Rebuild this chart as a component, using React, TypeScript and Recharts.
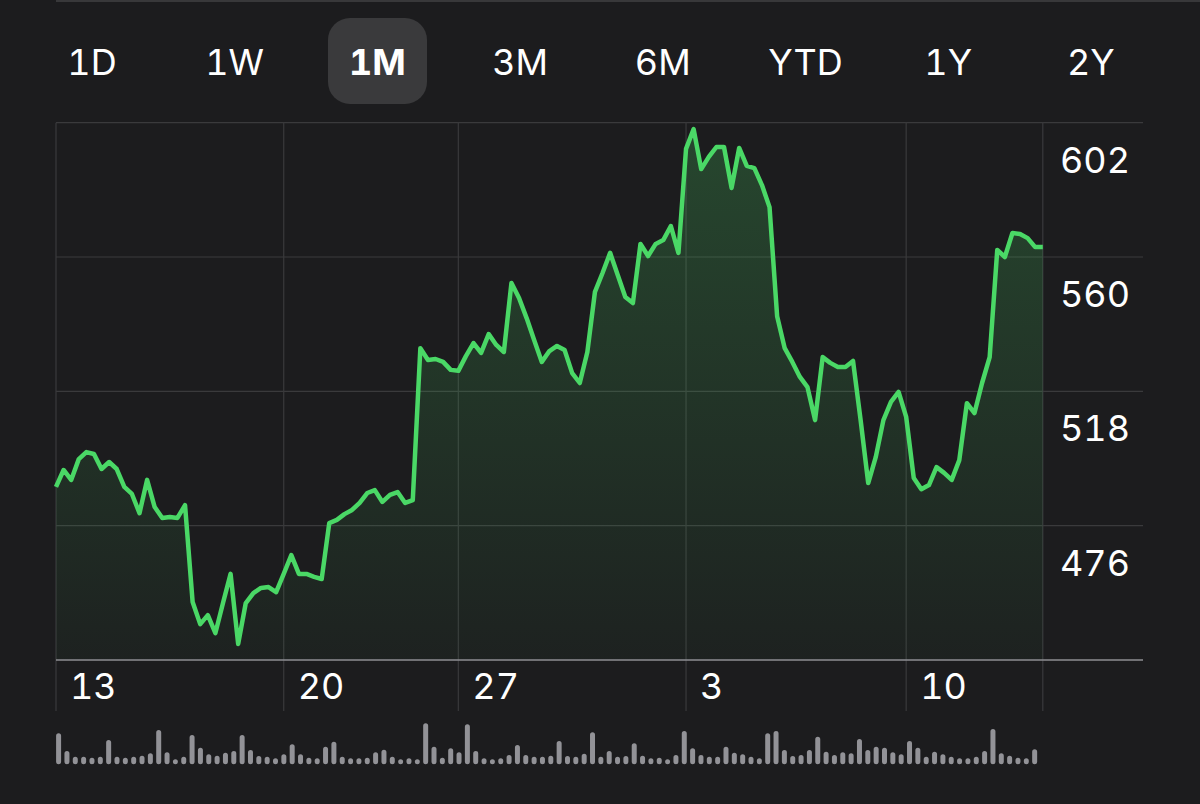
import React from "react";
import {
  AreaChart,
  Area,
  BarChart,
  Bar,
  XAxis,
  YAxis,
  CartesianGrid,
  ReferenceLine,
} from "recharts";

// price, one point per sample of the 1M view
const prices = [
  488.1, 493.4, 490.3, 496.8, 499.0, 498.4, 493.7, 495.9, 493.7, 488.1,
  485.9, 479.9, 490.3, 481.8, 478.4, 478.7, 478.4, 482.4, 452.1, 445.2,
  448.0, 442.4, 451.8, 460.9, 439.0, 451.8, 454.9, 456.5, 456.8, 455.2,
  460.9, 466.8, 460.9, 460.9, 460.0, 459.3, 476.8, 477.8, 479.6, 480.9,
  483.1, 486.2, 487.1, 483.4, 485.6, 486.5, 483.1, 484.0, 531.5, 527.8,
  528.1, 527.2, 524.7, 524.4, 529.0, 533.1, 530.0, 535.9, 532.5, 530.3,
  551.9, 547.2, 540.9, 534.0, 527.2, 530.6, 532.2, 530.9, 523.7, 520.6,
  530.3, 549.1, 555.0, 561.3, 554.4, 547.5, 545.6, 564.1, 560.3, 564.1,
  565.3, 569.7, 561.3, 593.8, 600.0, 587.5, 591.3, 594.4, 594.4, 581.6,
  594.1, 588.5, 587.8, 582.5, 575.6, 541.5, 531.5, 527.2, 522.5, 519.3,
  509.0, 528.7, 526.9, 525.6, 525.6, 527.5, 509.0, 489.3, 497.5, 509.0,
  514.7, 517.8, 510.0, 490.9, 487.4, 488.7, 494.3, 492.5, 490.3, 496.5,
  514.3, 511.2, 520.6, 528.7, 562.2, 560.0, 567.5, 567.2, 565.9, 563.1,
  563.1,
];

const volumes = [
  31, 13.3, 7.6, 7.6, 6.6, 7.6, 24.3, 7.6, 6.6, 7.6,
  8.6, 11, 34.3, 12, 5, 7.6, 29.3, 16.6, 10, 8.6,
  11.6, 13.3, 29.3, 14.3, 8.3, 7.6, 6, 10, 20, 10,
  6.6, 6, 17.6, 22.6, 7.6, 6, 6, 6.6, 12, 14.6,
  7.6, 5, 6, 5, 41, 17.6, 6.6, 16, 12, 40,
  13.3, 6, 5, 6, 9.3, 19.3, 9.3, 7.6, 7.6, 8.6,
  23.3, 8.3, 7.6, 10.6, 32, 7.6, 13.3, 7.6, 8.3, 21,
  8.6, 6, 6.6, 5, 9.3, 33.3, 16, 9.3, 7.6, 7.6,
  17.6, 11.6, 10, 7.6, 6, 31, 33.3, 14.3, 8.3, 9.3,
  14.3, 27.6, 12.6, 9.3, 12, 11, 25.3, 14.3, 17.6, 16.6,
  12, 10, 23.3, 16.6, 7.6, 12.6, 10, 7.6, 6, 6,
  7.6, 13.3, 35.3, 11, 8.6, 6.6, 6, 15,
];

const ranges = ["1D", "1W", "1M", "3M", "6M", "YTD", "1Y", "2Y"];
const activeRange = "1M";

const priceTicks = [476, 518, 560, 602];
const dayTicks = [0, 30, 53, 83, 112, 130];
const dayLabels = ["13", "20", "27", "3", "10", ""];

const priceData = prices.map((price, i) => ({ i, price }));
const volumeData = volumes.map((volume, i) => ({ i, volume }));

const FONT = "Inter, 'Noto Sans', sans-serif";
const GREEN = "#4ad866";

function PriceTick(props: any) {
  const { y, payload } = props;
  return (
    <text
      x={1060}
      y={y + 50}
      fill="#ffffff"
      fontSize={36}
      fontFamily={FONT}
      style={{ fontVariantNumeric: "tabular-nums" }}
    >
      {payload.value}
    </text>
  );
}

function DayTick(props: any) {
  const { x, payload } = props;
  const label = dayLabels[dayTicks.indexOf(payload.value)];
  return (
    <text
      x={x + 14}
      y={699}
      fill="#ffffff"
      fontSize={36}
      fontFamily={FONT}
      style={{ fontVariantNumeric: "tabular-nums" }}
    >
      {label}
    </text>
  );
}

export default function App() {
  return (
    <div
      style={{
        position: "absolute",
        left: 0,
        top: 0,
        width: 1200,
        height: 804,
        background: "#1c1c1e",
        overflow: "hidden",
        fontFamily: FONT,
      }}
    >
      <div
        style={{
          position: "absolute",
          left: 56,
          top: 0,
          width: 1144,
          height: 2,
          background: "#38383a",
        }}
      />

      {/* range selector */}
      <div
        style={{
          position: "absolute",
          left: 328,
          top: 18,
          width: 99,
          height: 86,
          borderRadius: 22,
          background: "#3a3a3c",
        }}
      />
      {ranges.map((r, idx) => (
        <div
          key={r}
          style={{
            position: "absolute",
            left: 92 + idx * 142.7 - 60,
            top: 40,
            width: 120,
            textAlign: "center",
            color: "#ffffff",
            fontSize: 36,
            lineHeight: "44px",
            fontWeight: r === activeRange ? 700 : 400,
            fontVariantNumeric: "tabular-nums",
          }}
        >
          {r}
        </div>
      ))}

      {/* price area */}
      <div style={{ position: "absolute", left: 0, top: 0 }}>
        <AreaChart
          width={1200}
          height={740}
          data={priceData}
          margin={{ top: 122.7, right: 57, left: 56, bottom: 8.9 }}
        >
          <defs>
            <linearGradient id="priceFill" x1="0" y1="0" x2="0" y2="1">
              <stop offset="0%" stopColor={GREEN} stopOpacity={0.38} />
              <stop offset="100%" stopColor={GREEN} stopOpacity={0.05} />
            </linearGradient>
          </defs>
          <CartesianGrid
            stroke="#3a3a3c"
            strokeWidth={1.2}
            horizontalValues={priceTicks}
            verticalValues={dayTicks}
          />
          <XAxis
            dataKey="i"
            type="number"
            domain={[0, 143.2]}
            ticks={dayTicks}
            tick={<DayTick />}
            axisLine={false}
            tickLine={false}
            height={20}
            interval={0}
          />
          <YAxis
            type="number"
            domain={[418, 602]}
            ticks={priceTicks}
            tick={<PriceTick />}
            orientation="right"
            mirror
            axisLine={false}
            tickLine={false}
            allowDataOverflow
          />
          <ReferenceLine y={434} stroke="#8e8e93" strokeWidth={1.5} />
          <Area
            type="linear"
            dataKey="price"
            baseValue={434}
            stroke={GREEN}
            strokeWidth={4.5}
            strokeLinejoin="round"
            fill="url(#priceFill)"
            isAnimationActive={false}
            dot={false}
            activeDot={false}
          />
        </AreaChart>
      </div>

      {/* volume bars */}
      <div style={{ position: "absolute", left: 0, top: 700 }}>
        <BarChart
          width={1200}
          height={80}
          data={volumeData}
          margin={{ top: 19.3, right: 161.5, left: 54.1, bottom: 15.7 }}
        >
          <XAxis dataKey="i" hide />
          <YAxis domain={[0, 45]} hide />
          <Bar
            dataKey="volume"
            fill="#929297"
            barSize={5}
            radius={[2.5, 2.5, 2.5, 2.5]}
            isAnimationActive={false}
          />
        </BarChart>
      </div>
    </div>
  );
}
